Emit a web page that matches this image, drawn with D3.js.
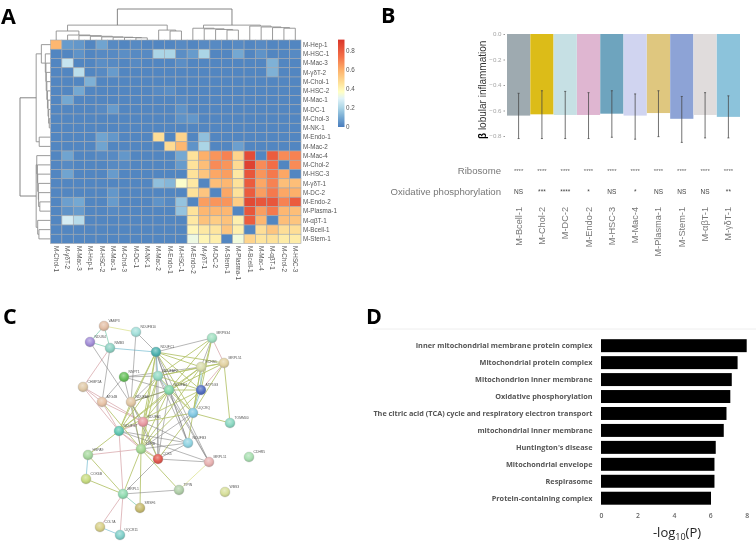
<!DOCTYPE html>
<html><head><meta charset="utf-8">
<script src="https://cdn.jsdelivr.net/npm/d3@7/dist/d3.min.js"></script>
<style>html,body{margin:0;padding:0;background:#fff}svg{display:block;filter:blur(0.3px)}text{font-family:"Liberation Sans",Arial,sans-serif}</style>
</head><body><svg id="c" width="756" height="545"></svg>
<script>
// ---------- Panel A data ----------
const heatRows=["M-Hep-1","M-HSC-1","M-Mac-3","M-γδT-2","M-Chol-1","M-HSC-2","M-Mac-1","M-DC-1","M-Chol-3","M-NK-1","M-Endo-1","M-Mac-2","M-Mac-4","M-Chol-2","M-HSC-3","M-γδT-1","M-DC-2","M-Endo-2","M-Plasma-1","M-αβT-1","M-Bcell-1","M-Stem-1"];
const heatCols=["M-Chol-1","M-γδT-2","M-Mac-3","M-Hep-1","M-HSC-2","M-Mac-1","M-Chol-3","M-DC-1","M-NK-1","M-Mac-2","M-Endo-1","M-HSC-1","M-Endo-2","M-γδT-1","M-DC-2","M-Stem-1","M-Plasma-1","M-Bcell-1","M-Mac-4","M-αβT-1","M-Chol-2","M-HSC-3"];
const heatValues=[
[.58,.07,.06,.02,.09,.03,.02,.03,.02,.02,.02,.03,.02,.03,.03,.02,.03,.02,.03,.02,.02,.02],
[.02,.02,.05,.02,.03,.03,.04,.03,.03,.2,.2,.04,.07,.2,.02,.02,.1,.02,.05,.02,.02,.03],
[.02,.25,.02,.02,.04,.03,.02,.03,.02,.02,.02,.04,.02,.02,.02,.02,.02,.02,.02,.12,.02,.02],
[.02,.02,.23,.02,.03,.07,.02,.02,.02,.02,.02,.02,.02,.02,.02,.02,.02,.02,.02,.12,.02,.02],
[.02,.02,.02,.12,.02,.02,.02,.02,.02,.02,.02,.02,.02,.02,.02,.02,.02,.02,.02,.02,.02,.02],
[.02,.02,.1,.02,.02,.02,.02,.02,.02,.03,.04,.02,.02,.02,.02,.02,.02,.02,.02,.02,.02,.02],
[.02,.1,.02,.02,.02,.02,.02,.02,.02,.02,.02,.03,.02,.02,.02,.02,.02,.02,.02,.02,.02,.02],
[.02,.02,.02,.02,.03,.07,.02,.02,.02,.02,.02,.05,.02,.02,.02,.02,.02,.02,.02,.02,.02,.02],
[.02,.02,.02,.02,.02,.02,.02,.02,.02,.02,.02,.05,.06,.02,.02,.02,.02,.02,.02,.02,.02,.02],
[.02,.02,.02,.02,.02,.02,.02,.02,.02,.02,.02,.02,.02,.02,.02,.02,.02,.02,.02,.02,.02,.02],
[.02,.02,.02,.02,.09,.06,.02,.02,.02,.47,.02,.5,.02,.15,.02,.02,.02,.02,.02,.02,.02,.02],
[.02,.02,.02,.02,.09,.02,.02,.02,.02,.02,.48,.58,.05,.2,.02,.02,.08,.02,.02,.02,.02,.02],
[.02,.09,.02,.02,.03,.03,.06,.02,.02,.02,.02,.1,.46,.6,.66,.7,.5,.85,.02,.8,.68,.7],
[.02,.03,.02,.02,.02,.03,.03,.02,.02,.02,.02,.07,.46,.56,.68,.66,.48,.88,.68,.75,.02,.68],
[.02,.09,.02,.02,.02,.07,.02,.02,.02,.02,.02,.02,.46,.54,.62,.64,.44,.82,.66,.72,.62,.02],
[.02,.02,.02,.02,.02,.02,.02,.02,.02,.15,.13,.36,.44,.02,.56,.58,.46,.8,.62,.7,.56,.56],
[.02,.02,.02,.02,.02,.06,.02,.02,.02,.02,.02,.02,.46,.54,.02,.62,.46,.8,.64,.72,.62,.6],
[.02,.08,.1,.02,.02,.07,.02,.02,.02,.05,.03,.16,.02,.64,.66,.66,.52,.86,.82,.82,.7,.8],
[.02,.05,.07,.02,.02,.03,.02,.02,.02,.02,.02,.16,.46,.58,.58,.58,.02,.82,.64,.72,.58,.56],
[.02,.28,.22,.02,.02,.02,.02,.02,.02,.02,.02,.02,.44,.55,.52,.55,.42,.8,.58,.02,.56,.54],
[.02,.02,.02,.02,.02,.02,.02,.02,.02,.02,.02,.02,.4,.44,.45,.54,.42,.02,.47,.54,.47,.47],
[.02,.02,.02,.02,.02,.02,.02,.02,.02,.02,.02,.02,.33,.4,.42,.02,.34,.5,.45,.46,.43,.43]];
const colorStops=[0,.1,.2,.3,.37,.46,.6,.74,.92];
const colorRamp=["#4a7dbd","#74a8d2","#abd5e6","#e0f3f8","#ffffc4","#fee29a","#fdb06a","#f47048","#d9352a"];
const legendTicks=[0,.2,.4,.6,.8];
// dendrograms: leaf = index, node = [height,childA,childB]
const colTree=[100,
 [48,[29,0,[16,1,[14,2,[12,3,[10,4,[9,5,[8,6,[7,7,8]]]]]]]],[32,9,[29,10,11]]],
 [48,[38,12,[36,13,[34,14,[32,15,16]]]],[45,17,[42,18,[40,19,[38,20,21]]]]]];
const rowTree=[100,
 [47,[30,0,[17,1,[15,2,[14,3,[12,4,[10,5,[8,6,[6,7,[4,8,9]]]]]]]]],[37,10,11]],
 [47,[45,12,[43,13,[42,14,[40,15,[39,16,[35,17,18]]]]]],[42,19,[38,20,21]]]];

// ---------- Panel B data ----------
const cellTypes=["M-Bcell-1","M-Chol-2","M-DC-2","M-Endo-2","M-HSC-3","M-Mac-4","M-Plasma-1","M-Stem-1","M-αβT-1","M-γδT-1"];
const betaValues=[-.64,-.63,-.635,-.635,-.625,-.64,-.62,-.665,-.635,-.65];
const betaUpper=[-.465,-.445,-.45,-.46,-.445,-.47,-.445,-.49,-.46,-.485];
const betaLower=[-.82,-.82,-.82,-.82,-.81,-.825,-.805,-.85,-.815,-.815];
const betaColors=["#9eaab0","#dcbc18","#c6e0e4","#dfb6d1","#6ea4be","#d0d4f0","#dfc77f","#8da3d6","#e0dcdc","#8cc3db"];
const betaTicks=[0,-.2,-.4,-.6,-.8];
const ribosomeSig=["****","****","****","****","****","****","****","****","****","****"];
const oxphosSig=["NS","***","****","*","NS","*","NS","NS","NS","**"];

// ---------- Panel C data ----------
const netNames=["VAMP3","NDUFB10","NDUS4","NMB3","NDUFC1","NNPT1","CHMP2A","ATG4B","NDUFA8","NDUFAF2","NDUFA4","NDUFA1","NDUFS7","MRPS34","ECHS1","MRPL51","ATP5G3","UQCRQ","TOMM40","HSPA9","SDHB","COX5","NDUFB3","MRPL11","CDHR5","WBS3","TIPIN","COX6B","MRPL1","SRSF6","COL7A","UQCR11"];
const netX=[44,76,30,50,96,64,23,42,71,98,109,83,59,152,141,164,141,133,170,28,81,98,128,149,189,165,119,26,63,80,40,60];
const netY=[6,12,22,28,32,57,67,82,82,56,70,102,111,18,47,43,70,93,103,135,129,139,123,142,137,172,170,159,174,188,207,215];
const netColors=["#e3bfa6","#a4e0da","#a48fd8","#8fd2c4","#4fb2b0","#68c05c","#e0caa8","#e8c4a8","#e2c8a6","#94dac4","#82d8aa","#e99aa2","#62c8b2","#a2e0c2","#d8dcaa","#e2d2a2","#5470c2","#82c8e2","#8cd8c2","#a8d8a0","#a4d892","#e25a50","#92d4e2","#e8b2b2","#aae0b2","#d8e09c","#b2d0aa","#c8dc82","#92dcb2","#c8bc72","#d8d08a","#82d0ca"];
const netEdges=[[0,1,"y"],[0,2,"t"],[0,3,"t"],[2,3,"t"],[3,4,"b"],[1,4,"g"],[1,8,"g"],[3,6,"p"],[3,7,"g"],[2,11,"g"],[6,7,"p"],[6,11,"p"],[6,12,"p"],[7,11,"p"],[7,12,"p"],[8,11,"o"],[8,12,"o"],[8,20,"o"],[5,9,"g"],[5,10,"g"],[5,7,"g"],[5,20,"g"],[5,14,"g"],
[4,9,"b"],[4,10,"g"],[4,13,"g"],[4,14,"o"],[4,15,"o"],[4,16,"o"],[4,17,"o"],[4,20,"o"],[4,21,"g"],[4,22,"g"],[4,12,"o"],[4,11,"o"],
[9,10,"b"],[9,13,"o"],[9,14,"o"],[9,15,"o"],[9,16,"o"],[9,17,"o"],[9,20,"o"],[9,21,"g"],[9,22,"g"],[9,12,"o"],[9,11,"o"],
[10,13,"o"],[10,14,"o"],[10,15,"o"],[10,16,"o"],[10,17,"o"],[10,20,"o"],[10,21,"g"],[10,22,"g"],[10,12,"o"],[10,11,"o"],[10,23,"g"],[10,8,"o"],
[13,14,"g"],[13,15,"p"],[13,16,"o"],[13,17,"o"],[14,15,"o"],[14,16,"b"],[14,17,"o"],[15,16,"p"],[15,17,"o"],[15,18,"o"],[16,17,"b"],[16,20,"o"],[17,18,"o"],[17,20,"g"],[17,21,"o"],[14,20,"o"],[14,12,"o"],[16,12,"o"],
[8,9,"g"],[8,10,"g"],[8,4,"o"],[8,21,"g"],[11,12,"p"],[11,20,"o"],[11,21,"o"],[11,17,"o"],[11,22,"g"],[12,19,"o"],[12,20,"p"],[12,21,"p"],[12,22,"g"],[12,28,"p"],[12,23,"g"],[20,19,"p"],[20,21,"o"],[20,22,"g"],[20,28,"o"],[20,29,"o"],[20,26,"o"],[21,22,"g"],[21,23,"g"],[21,28,"g"],[22,14,"o"],[23,26,"y"],[19,27,"b"],[27,28,"o"],[28,26,"g"],[28,29,"t"],[28,30,"p"],[28,31,"p"],[30,31,"b"],[19,28,"o"],[7,20,"o"],[4,23,"g"],[9,23,"g"]];
const edgeStyles={y:"#dfe59a",t:"#8fd2b8",b:"#8cc8d8",g:"#7a7a7a",p:"#dcb0b4",o:"#b2c268"};

// ---------- Panel D data ----------
const termNames=["Inner mitochondrial membrane protein complex","Mitochondrial protein complex","Mitochondrion inner membrane","Oxidative phosphorylation","The citric acid (TCA) cycle and respiratory electron transport","mitochondrial inner membrane","Huntington's disease","Mitochondrial envelope","Respirasome","Protein-containing complex"];
const termValues=[8.0,7.5,7.18,7.1,6.89,6.74,6.3,6.23,6.23,6.04];
const termTicks=[0,2,4,6,8];

const svg=d3.select("#c");
const defs=svg.append("defs");
function letter(t,x,y){svg.append("text").attr("x",x).attr("y",y).style("font-family","'Open Sans',sans-serif").attr("font-weight",700).attr("font-size",21.5).attr("fill","#000").text(t);}
letter("A",1,24);letter("B",381,23);letter("C",3,324);letter("D",366,324);

// ---------- Panel A ----------
const hx=d3.scaleBand().domain(d3.range(heatCols.length)).range([50.5,301]);
const hy=d3.scaleBand().domain(d3.range(heatRows.length)).range([40,243.5]);
const hc=d3.scaleLinear().domain(colorStops).range(colorRamp).clamp(true);
const gA=svg.append("g");
heatValues.forEach((r,i)=>gA.append("g").selectAll("rect").data(r).join("rect")
 .attr("x",(d,j)=>hx(j)).attr("y",hy(i)).attr("width",hx.bandwidth()).attr("height",hy.bandwidth())
 .attr("fill",d=>hc(d)).attr("stroke","#a3a9b0").attr("stroke-width",.6));
gA.append("g").selectAll("text").data(heatRows).join("text").attr("x",303).attr("y",(d,i)=>hy(i)+hy.bandwidth()/2+2.2)
 .attr("font-size",6.3).attr("fill","#555").text(d=>d);
gA.append("g").selectAll("text").data(heatCols).join("text")
 .attr("transform",(d,i)=>`translate(${hx(i)+hx.bandwidth()/2-2.2},246) rotate(90)`)
 .attr("font-size",6.3).attr("fill","#555").text(d=>d);
function drawTree(node,leafPos,hPos,vertical,g){
 if(typeof node==="number")return {p:leafPos(node),h:hPos(0)};
 const a=drawTree(node[1],leafPos,hPos,vertical,g),b=drawTree(node[2],leafPos,hPos,vertical,g),h=hPos(node[0]);
 const path=vertical?`M${a.p},${a.h}V${h}H${b.p}V${b.h}`:`M${a.h},${a.p}H${h}V${b.p}H${b.h}`;
 g.append("path").attr("d",path).attr("fill","none").attr("stroke",node[0]>=90?"#777":"#8e8e8e").attr("stroke-width",.9);
 return {p:(a.p+b.p)/2,h};
}
drawTree(colTree,i=>hx(i)+hx.bandwidth()/2,d3.scaleLinear([0,100],[40,9]),true,gA.append("g"));
drawTree(rowTree,i=>hy(i)+hy.bandwidth()/2,d3.scaleLinear([0,100],[50.5,20]),false,gA.append("g"));
// colour bar
const lgY=d3.scaleLinear().domain([0,.8]).range([127,51]);
const lg=defs.append("linearGradient").attr("id","lg").attr("x1",0).attr("x2",0).attr("y1",1).attr("y2",0);
colorStops.forEach((s,i)=>lg.append("stop").attr("offset",s/.92).attr("stop-color",colorRamp[i]));
gA.append("rect").attr("x",338).attr("y",lgY(.92)).attr("width",6.5).attr("height",lgY(0)-lgY(.92)).attr("fill","url(#lg)");
gA.append("g").selectAll("text").data(legendTicks).join("text").attr("x",346).attr("y",d=>lgY(d)+2.2).attr("font-size",6.3).attr("fill","#555").text(d=>d);

// ---------- Panel B ----------
const bx=d3.scaleBand().domain(cellTypes).range([507,740]).paddingInner(0.005);
const by=d3.scaleLinear().domain([0,-.8]).range([34,136]);
const gB=svg.append("g");
gB.append("g").selectAll("rect").data(cellTypes).join("rect").attr("x",d=>bx(d)).attr("y",by(0)).attr("width",bx.bandwidth())
 .attr("height",(d,i)=>by(betaValues[i])-by(0)).attr("fill",(d,i)=>betaColors[i]);
const bc=d=>bx(d)+bx.bandwidth()/2;
cellTypes.forEach((d,i)=>{
 const g=gB.append("g").attr("stroke","#444").attr("stroke-width",.75);
 g.append("line").attr("x1",bc(d)).attr("x2",bc(d)).attr("y1",by(betaUpper[i])).attr("y2",by(betaLower[i]));
 [betaUpper[i],betaLower[i]].forEach(v=>g.append("line").attr("x1",bc(d)-1).attr("x2",bc(d)+1).attr("y1",by(v)).attr("y2",by(v)));
});
const bAxis=gB.append("g").attr("transform","translate(505,0)").call(d3.axisLeft(by).tickValues(betaTicks).tickSize(1.5).tickPadding(2).tickFormat(d3.format(".1f")));
bAxis.select(".domain").remove();bAxis.selectAll("line").attr("stroke","#999");
bAxis.selectAll("text").attr("font-size",6.2).attr("fill","#a5a5a5").style("font-family","'Liberation Sans',sans-serif");
const yl=gB.append("text").attr("transform","translate(486,139) rotate(-90)").attr("font-size",10).attr("fill","#333");
yl.append("tspan").attr("font-weight",700).attr("fill","#000").text("β");yl.append("tspan").text(" lobular inflammation");
gB.append("text").attr("x",501).attr("y",173.5).attr("text-anchor","end").attr("font-size",9.6).attr("fill","#777").text("Ribosome");
gB.append("text").attr("x",501).attr("y",194.5).attr("text-anchor","end").attr("font-size",9.6).attr("fill","#777").text("Oxidative phosphorylation");
gB.append("g").selectAll("text").data(cellTypes).join("text").attr("x",bc).attr("y",172.5).attr("text-anchor","middle").attr("font-size",6).attr("fill","#666").text((d,i)=>ribosomeSig[i]);
gB.append("g").selectAll("text").data(cellTypes).join("text").attr("x",bc).attr("y",193.7).attr("text-anchor","middle").attr("font-size",6.5).attr("fill","#444").text((d,i)=>oxphosSig[i]);
gB.append("g").selectAll("text").data(cellTypes).join("text").attr("transform",d=>`translate(${bc(d)+3},207) rotate(-90)`).attr("text-anchor","end").attr("font-size",9.2).attr("fill","#777").text(d=>d);

// ---------- Panel C ----------
const nx=d3.scaleLinear([0,200],[60,260]),ny=d3.scaleLinear([0,220],[320,540]);
const gC=svg.append("g");
gC.append("g").selectAll("line").data(netEdges).join("line").attr("x1",d=>nx(netX[d[0]])).attr("y1",d=>ny(netY[d[0]])).attr("x2",d=>nx(netX[d[1]])).attr("y2",d=>ny(netY[d[1]]))
 .attr("stroke",d=>edgeStyles[d[2]]).attr("stroke-width",d=>d[2]==="g"?.55:.85);
netColors.forEach((c,i)=>{const g=defs.append("radialGradient").attr("id","n"+i).attr("cx",.45).attr("cy",.35).attr("r",.7);
 g.append("stop").attr("offset",0).attr("stop-color",d3.interpolateRgb(c,"#fff")(.4));
 g.append("stop").attr("offset",.55).attr("stop-color",c);
 g.append("stop").attr("offset",1).attr("stop-color",d3.color(c).darker(.6));});
gC.append("g").selectAll("circle").data(netNames).join("circle").attr("cx",(d,i)=>nx(netX[i])).attr("cy",(d,i)=>ny(netY[i])).attr("r",5).attr("fill",(d,i)=>`url(#n${i})`).attr("stroke","#aaa").attr("stroke-width",.3);
gC.append("g").selectAll("text").data(netNames).join("text").attr("x",(d,i)=>nx(netX[i])+4.5).attr("y",(d,i)=>ny(netY[i])-4.5).attr("font-size",3.4).attr("fill","#555").text(d=>d);

// ---------- Panel D ----------
const dx=d3.scaleLinear().domain([0,8]).range([601,746.7]);
const dy=d3.scaleBand().domain(termNames).range([339.2,504.7]).paddingInner(.235);
const gD=svg.append("g");
gD.append("line").attr("x1",373).attr("x2",756).attr("y1",329).attr("y2",329).attr("stroke","#eee");
gD.append("g").selectAll("rect").data(termNames).join("rect").attr("x",dx(0)).attr("y",d=>dy(d)).attr("width",(d,i)=>dx(termValues[i])-dx(0)).attr("height",dy.bandwidth()).attr("fill","#000");
gD.append("g").selectAll("text").data(termNames).join("text").attr("x",592.5).attr("y",d=>dy(d)+dy.bandwidth()/2+2.5).attr("text-anchor","end")
 .style("font-family","'Open Sans',sans-serif").attr("font-weight",700).attr("font-size",7.3).attr("fill","#555").text(d=>d);
const dAxis=gD.append("g").attr("transform","translate(0,510)").call(d3.axisBottom(dx).tickValues(termTicks).tickSize(0).tickPadding(3));
dAxis.select(".domain").remove();
dAxis.selectAll("text").style("font-family","'Open Sans',sans-serif").attr("font-weight",600).attr("font-size",6.8).attr("fill","#666");
const dt=gD.append("text").attr("x",677).attr("y",537).attr("text-anchor","middle").style("font-family","'Open Sans',sans-serif").attr("font-size",13).attr("fill","#222");
dt.append("tspan").text("-log");dt.append("tspan").attr("font-size",9).attr("dy",3).text("10");dt.append("tspan").attr("dy",-3).text("(P)");
</script></body></html>
